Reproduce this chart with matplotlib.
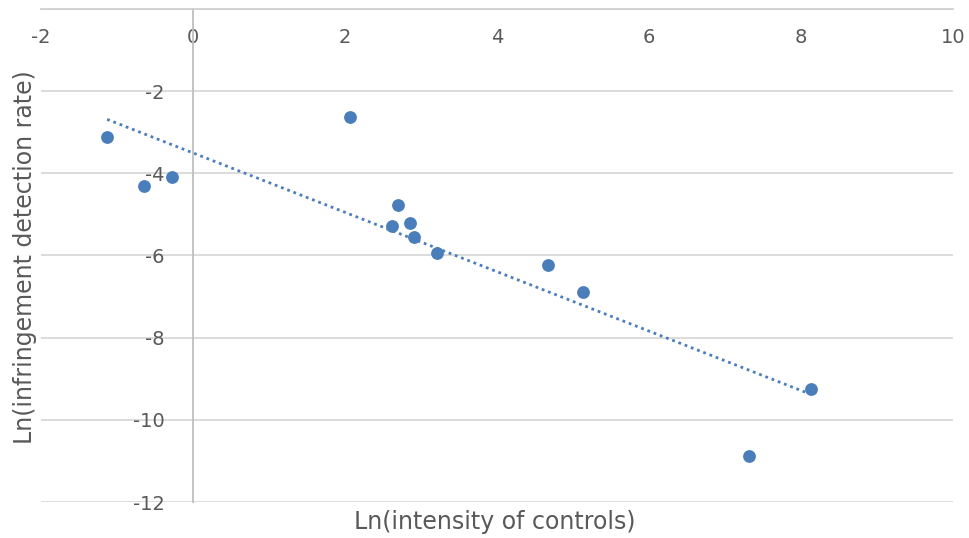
import numpy as np
import matplotlib.pyplot as plt

# ln(intensity of controls) vs ln(infringement detection rate)
ln_intensity = [-1.13, -0.65, -0.28, 2.07, 2.62, 2.70, 2.86, 2.91, 3.21, 4.67, 5.13, 7.32, 8.13]
ln_detection = [-3.12, -4.31, -4.10, -2.63, -5.29, -4.76, -5.22, -5.54, -5.93, -6.22, -6.90, -10.88, -9.24]

x_ticks = [-2, 0, 2, 4, 6, 8, 10]
y_ticks = [-2, -4, -6, -8, -10, -12]

blue = '#4a7ebb'
text_col = '#595959'

fig = plt.figure(figsize=(9.7, 5.38), dpi=100)
ax = fig.add_axes([0.0423, 0.0669, 0.9402, 0.9164])

ax.set_xlim(-2, 10)
ax.set_ylim(-12, 0)

# gridlines
ax.set_yticks(y_ticks + [0])
ax.yaxis.grid(True, color='#d9d9d9', lw=1.3)
ax.set_axisbelow(True)

ax.scatter(ln_intensity, ln_detection, s=85, color=blue, zorder=3, linewidths=0)

# linear trendline
slope, icpt = np.polyfit(ln_intensity, ln_detection, 1)
xs = np.array([min(ln_intensity), max(ln_intensity)])
ax.plot(xs, slope * xs + icpt, color=blue, lw=2, linestyle=(0, (1, 1.4)), zorder=2)

# axes crossing at zero
for s in ['top', 'right']:
    ax.spines[s].set_visible(False)
ax.spines['left'].set_position(('data', 0))
ax.spines['bottom'].set_position(('data', 0))
ax.spines['left'].set_color('#bfbfbf')
ax.spines['bottom'].set_color('#d0d0d0')
ax.spines['left'].set_linewidth(1.3)
ax.spines['bottom'].set_linewidth(1.3)

ax.set_xticks(x_ticks)
ax.set_xticklabels([str(v) for v in x_ticks])
ax.set_yticklabels([str(v) for v in y_ticks] + [''])
ax.tick_params(axis='both', length=0, labelsize=14, colors=text_col)
ax.tick_params(axis='x', pad=14)
ax.tick_params(axis='y', pad=20.5)
for lbl in ax.get_xticklabels():
    lbl.set_clip_on(False)

fig.text(0.026, 0.522, 'Ln(infringement detection rate)', rotation=90, ha='center', va='center',
         fontsize=17, color=text_col)
fig.text(0.510, 0.030, 'Ln(intensity of controls)', ha='center', va='center',
         fontsize=17, color=text_col)

fig.savefig('out.png', dpi=100)
